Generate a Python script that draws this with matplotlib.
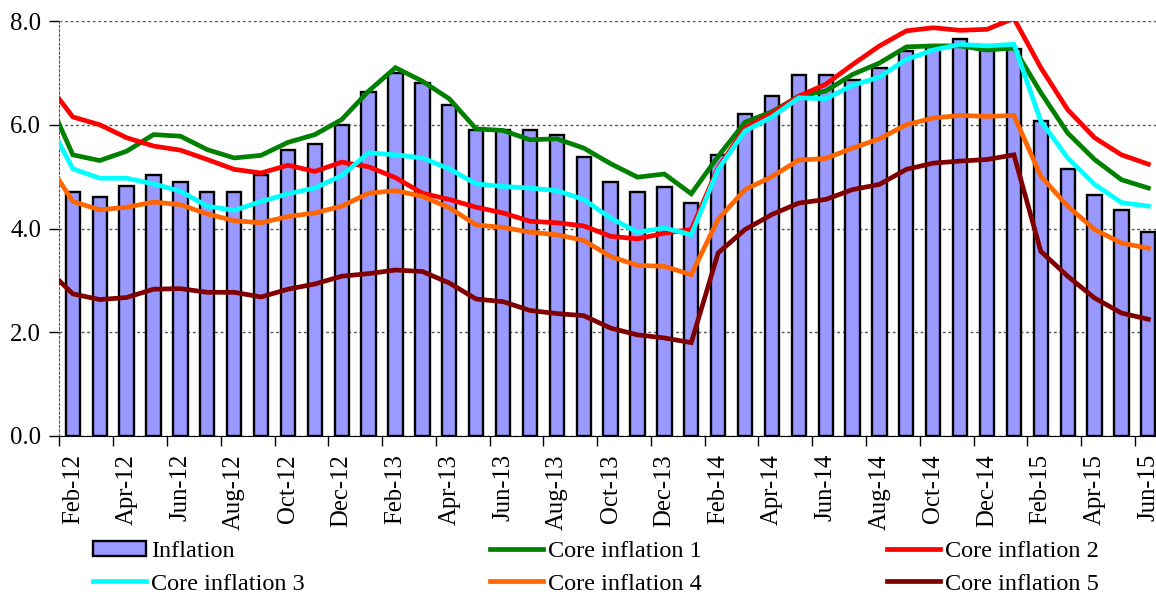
import numpy as np
import pandas as pd
import matplotlib
matplotlib.use("Agg")
import matplotlib.pyplot as plt

plt.rcParams['font.family'] = ['Liberation Serif', 'DejaVu Serif']

months = list(pd.date_range('2012-02-01', periods=41, freq='MS').strftime('%b-%y'))

inflation = [4.70, 4.60, 4.82, 5.03, 4.90, 4.70, 4.71, 5.03, 5.51, 5.62, 6.00, 6.64,
             6.99, 6.80, 6.38, 5.90, 5.90, 5.90, 5.80, 5.38, 4.90, 4.70, 4.80, 4.49,
             5.42, 6.21, 6.55, 6.95, 6.96, 6.86, 7.10, 7.42, 7.52, 7.65, 7.45, 7.46,
             6.08, 5.15, 4.64, 4.35, 3.93]

# first value of each core series is Jan-12, only partly visible at the left edge
core1 = [6.58, 5.42, 5.31, 5.49, 5.81, 5.78, 5.52, 5.36, 5.41, 5.66, 5.81, 6.10, 6.65,
         7.10, 6.84, 6.50, 5.92, 5.89, 5.71, 5.73, 5.55, 5.25, 4.99, 5.05, 4.67,
         5.39, 6.05, 6.25, 6.55, 6.65, 6.97, 7.19, 7.50, 7.52, 7.52, 7.44, 7.48,
         6.62, 5.84, 5.33, 4.94, 4.78]
core2 = [6.83, 6.15, 6.00, 5.75, 5.59, 5.51, 5.33, 5.14, 5.07, 5.22, 5.10, 5.28, 5.19,
         4.98, 4.68, 4.56, 4.41, 4.30, 4.14, 4.11, 4.05, 3.85, 3.80, 3.91, 3.98,
         5.17, 5.94, 6.22, 6.55, 6.78, 7.16, 7.52, 7.81, 7.87, 7.82, 7.84, 8.05,
         7.10, 6.29, 5.75, 5.42, 5.24]
core3 = [6.13, 5.15, 4.97, 4.97, 4.86, 4.72, 4.43, 4.35, 4.52, 4.67, 4.78, 5.02, 5.46,
         5.42, 5.36, 5.15, 4.86, 4.81, 4.78, 4.73, 4.56, 4.20, 3.93, 4.01, 3.88,
         5.14, 5.88, 6.15, 6.52, 6.50, 6.76, 6.92, 7.26, 7.44, 7.55, 7.52, 7.55,
         6.07, 5.36, 4.85, 4.50, 4.43]
core4 = [5.32, 4.52, 4.36, 4.41, 4.51, 4.46, 4.28, 4.15, 4.11, 4.23, 4.30, 4.43, 4.68,
         4.73, 4.62, 4.40, 4.07, 4.02, 3.93, 3.88, 3.77, 3.46, 3.29, 3.27, 3.11,
         4.18, 4.75, 5.00, 5.32, 5.35, 5.55, 5.73, 6.00, 6.13, 6.18, 6.16, 6.18,
         5.01, 4.43, 3.98, 3.72, 3.62]
core5 = [3.24, 2.74, 2.63, 2.67, 2.83, 2.84, 2.77, 2.77, 2.68, 2.83, 2.93, 3.08, 3.13,
         3.20, 3.17, 2.95, 2.64, 2.59, 2.42, 2.36, 2.32, 2.08, 1.95, 1.89, 1.80,
         3.53, 3.98, 4.27, 4.49, 4.56, 4.75, 4.85, 5.14, 5.26, 5.30, 5.33, 5.42,
         3.56, 3.08, 2.66, 2.37, 2.25]

core_names = ['Core inflation 1', 'Core inflation 2', 'Core inflation 3',
              'Core inflation 4', 'Core inflation 5']
core_colors = ['#008000', '#FF0000', '#00FFFF', '#FF6600', '#800000']

fs = 17.8
fig = plt.figure(figsize=(11.56, 5.94), dpi=100)
ax = fig.add_axes([59.4 / 1156, 1 - 436 / 594, 1102.4 / 1156, 415 / 594])

x = np.arange(len(months))
bars = ax.bar(x, inflation, width=0.53, color='#9999FF', edgecolor='black',
              linewidth=1.7, label='Inflation', zorder=2)

xl = np.arange(-1, len(months))
lines = []
for vals, name, col in zip([core1, core2, core3, core4, core5], core_names, core_colors):
    ln, = ax.plot(xl, vals, color=col, lw=3.4, label=name, zorder=3,
                  solid_joinstyle='miter')
    lines.append(ln)

ax.set_xlim(-0.5, len(months) - 0.5)
ax.set_ylim(0, 8)
ax.set_yticks([0, 2, 4, 6, 8])
ax.set_yticklabels(['0.0', '2.0', '4.0', '6.0', '8.0'], fontsize=fs)
ax.yaxis.grid(True, linestyle=(0, (2, 2)), color='#555555', lw=1.0, zorder=0)
ax.set_axisbelow(True)

ax.set_xticks(np.arange(-0.5, len(months), 2))
ax.set_xticklabels([])
ax.set_xticks(x[::2], minor=True)
ax.set_xticklabels(months[::2], minor=True, rotation=90, fontsize=fs)
ax.tick_params(axis='x', which='major', length=7, width=1, direction='out')
ax.tick_params(axis='x', which='minor', length=0, pad=13)
ax.tick_params(axis='y', length=7, width=1, pad=6)

for s in ['top', 'right']:
    ax.spines[s].set_visible(False)
ax.spines['left'].set_linestyle((0, (2, 2)))
ax.spines['left'].set_color('#555555')
ax.spines['bottom'].set_color('black')

handles = [bars, lines[2], lines[0], lines[3], lines[1], lines[4]]
labels = [h.get_label() for h in handles]
fig.legend(handles, labels, ncol=3, frameon=False, fontsize=17.5,
           loc='upper left', bbox_to_anchor=(93 / 1156, 1 - 541 / 594),
           borderaxespad=0, borderpad=0, handlelength=2.2, handletextpad=0.2,
           columnspacing=7.6, labelspacing=0.45, handleheight=0.6)

fig.savefig('out.png', dpi=100)
